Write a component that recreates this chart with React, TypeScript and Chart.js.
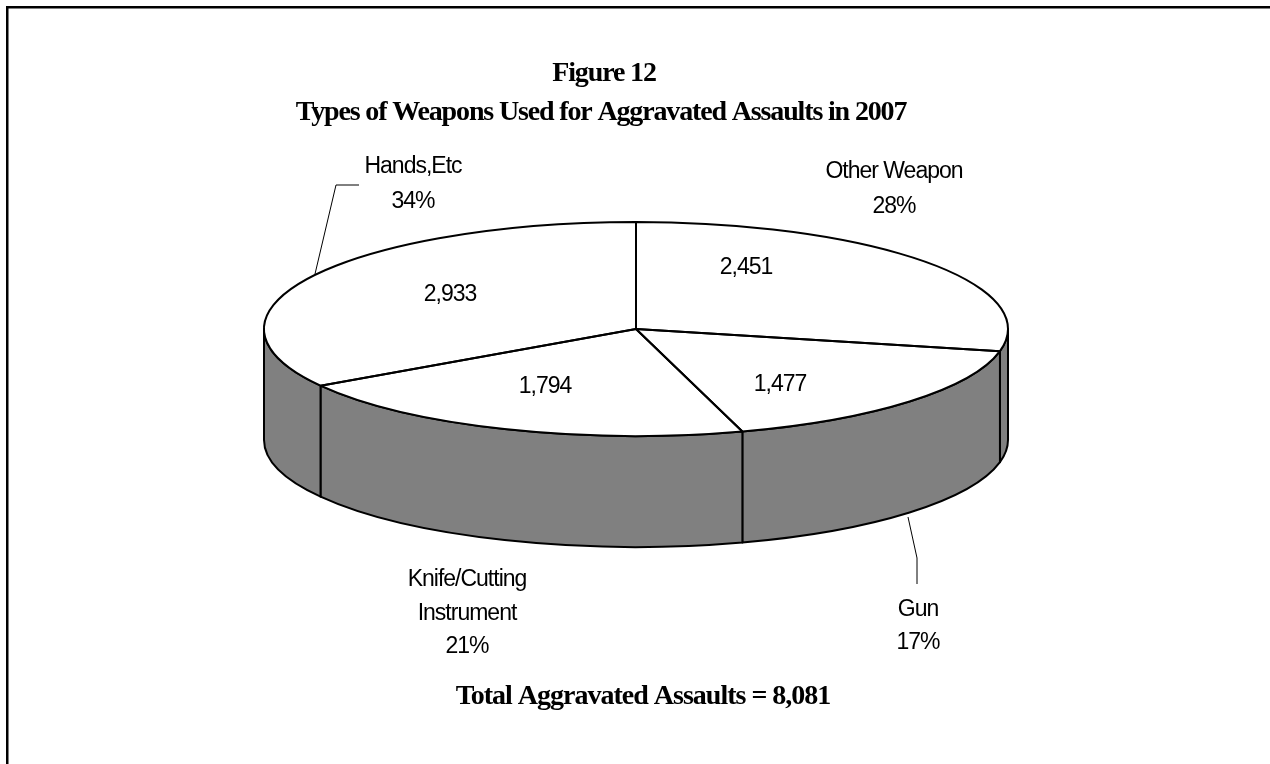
import React, { useEffect, useRef } from "react";
import { Chart, registerables } from "chart.js";

Chart.register(...registerables);

const categories = ["Other Weapon", "Gun", "Knife/Cutting Instrument", "Hands,Etc"];
const counts = [2451, 1477, 1794, 2933];
const countLabels = ["2,451", "1,477", "1,794", "2,933"];
const percentLabels = ["28%", "17%", "21%", "34%"];
const titleLines = ["Figure 12", "Types of Weapons Used for Aggravated Assaults in 2007"];
const footerText = "Total Aggravated Assaults = 8,081";

// Layout of the tilted pie and its annotations
const W = 1270;
const H = 764;
const CX = 636;
const RX = 372;
const CY = 329;
const RY = 107;
const DEPTH = 111;
const SERIF = '"Liberation Serif"';
const SANS = '"Liberation Sans"';

const countPos = [
  [746, 268],
  [780, 385],
  [545, 387],
  [450, 295],
];
const calloutPos: { x: number; lines: [string, number][] }[] = [
  { x: 894, lines: [["Other Weapon", 172], [percentLabels[0], 207]] },
  { x: 918, lines: [["Gun", 610], [percentLabels[1], 643]] },
  { x: 467, lines: [["Knife/Cutting", 580], ["Instrument", 614], [percentLabels[2], 647]] },
  { x: 413, lines: [[categories[3], 167], [percentLabels[3], 202]] },
];
const leaders = [
  [[315, 274], [336, 185], [359, 185]],
  [[908, 517], [917, 558], [917, 584]],
];

const pie3d = {
  id: "pie3d",
  beforeDraw(chart: any) {
    const { ctx } = chart;
    ctx.save();
    ctx.fillStyle = "#ffffff";
    ctx.fillRect(0, 0, W, H);
    ctx.fillStyle = "#000000";
    ctx.fillRect(6, 6, W - 6, 2.5);
    ctx.fillRect(6, 6, 2.5, H - 6);
    ctx.restore();
  },
  beforeDatasetDraw(chart: any) {
    const { ctx } = chart;
    const arcs = chart.getDatasetMeta(0).data;
    const c = arcs[0];
    const rx = c.outerRadius;
    ctx.save();
    ctx.lineWidth = 2;
    ctx.strokeStyle = "#000000";
    ctx.lineJoin = "round";
    // Side wall: only the part of each slice that faces the viewer
    for (const a of arcs) {
      const norm = (v: number) => ((v % (2 * Math.PI)) + 2 * Math.PI) % (2 * Math.PI);
      let s = norm(a.startAngle);
      let e = s + (a.endAngle - a.startAngle);
      if (s > Math.PI) {
        if (e < 2 * Math.PI) continue;
        s = 0;
        e = e - 2 * Math.PI;
      }
      e = Math.min(e, Math.PI);
      if (e <= s) continue;
      ctx.beginPath();
      ctx.ellipse(CX, CY, rx, RY, 0, s, e);
      ctx.ellipse(CX, CY + DEPTH, rx, RY, 0, e, s, true);
      ctx.closePath();
      ctx.fillStyle = "#808080";
      ctx.fill();
      ctx.stroke();
    }
    ctx.restore();
    // Tilt the library's circular pie into an ellipse
    ctx.save();
    ctx.translate(0, CY);
    ctx.scale(1, RY / rx);
    ctx.translate(0, -c.y);
  },
  afterDatasetDraw(chart: any) {
    const { ctx } = chart;
    ctx.restore();
    const arcs = chart.getDatasetMeta(0).data;
    ctx.save();
    ctx.lineWidth = 2;
    ctx.strokeStyle = "#000000";
    ctx.lineJoin = "round";
    for (const a of arcs) {
      const rx = a.outerRadius;
      ctx.beginPath();
      ctx.moveTo(a.x, CY);
      ctx.ellipse(a.x, CY, rx, RY, 0, a.startAngle, a.endAngle);
      ctx.closePath();
      ctx.stroke();
    }
    ctx.restore();
  },
  afterDraw(chart: any) {
    const { ctx } = chart;
    ctx.save();
    ctx.fillStyle = "#000000";
    ctx.textAlign = "center";
    ctx.textBaseline = "middle";
    ctx.font = `bold 28px ${SERIF}`;
    ctx.letterSpacing = "-1.15px";
    ctx.fillText(titleLines[0], 604, 74);
    ctx.fillText(titleLines[1], 601, 113);
    ctx.letterSpacing = "-1px";
    ctx.fillText(footerText, 643, 697);
    ctx.font = `23px ${SANS}`;
    ctx.letterSpacing = "-1px";
    countLabels.forEach((t, i) => ctx.fillText(t, countPos[i][0], countPos[i][1]));
    calloutPos.forEach((c) => c.lines.forEach(([t, y]) => ctx.fillText(t, c.x, y)));
    ctx.lineWidth = 1;
    ctx.strokeStyle = "#000000";
    leaders.forEach((pts) => {
      ctx.beginPath();
      pts.forEach(([x, y], i) => (i ? ctx.lineTo(x, y) : ctx.moveTo(x, y)));
      ctx.stroke();
    });
    ctx.restore();
  },
};

export default function App() {
  const ref = useRef<HTMLCanvasElement>(null);
  useEffect(() => {
    const chart = new Chart(ref.current as HTMLCanvasElement, {
      type: "pie",
      data: {
        labels: categories,
        datasets: [
          {
            data: counts,
            backgroundColor: "#ffffff",
            borderWidth: 0,
            clip: false,
          } as any,
        ],
      },
      options: {
        responsive: false,
        animation: false,
        layout: { padding: { left: CX - RX, right: W - CX - RX, top: 0, bottom: H - 2 * RX } },
        plugins: { legend: { display: false }, tooltip: { enabled: false }, title: { display: false } },
      },
      plugins: [pie3d],
    });
    return () => chart.destroy();
  }, []);
  return (
    <div style={{ position: "absolute", left: 0, top: 0, width: W, height: H, overflow: "hidden" }}>
      <canvas ref={ref} width={W} height={H} style={{ display: "block" }} />
    </div>
  );
}
